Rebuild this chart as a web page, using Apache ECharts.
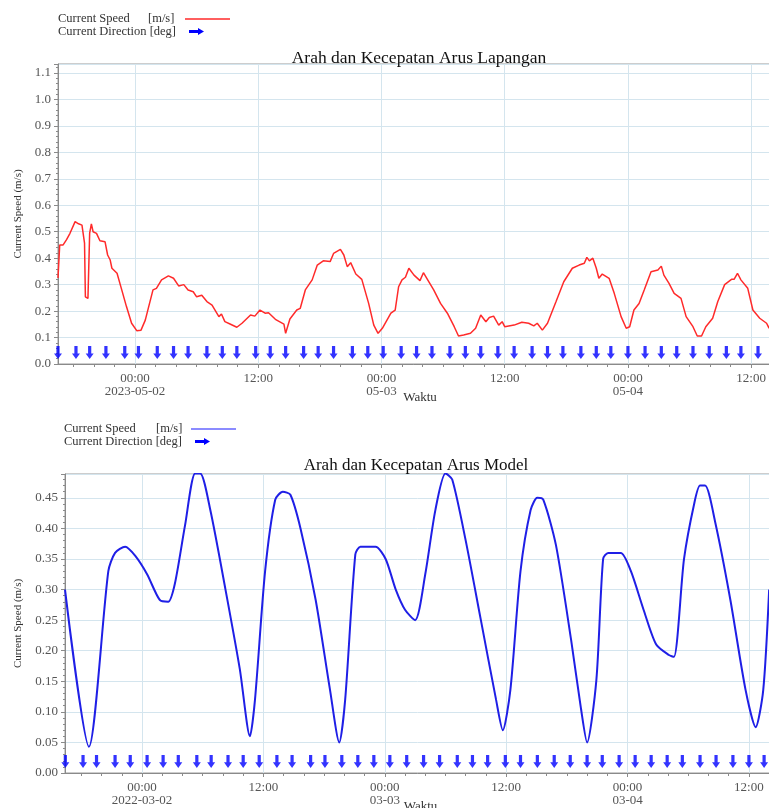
<!DOCTYPE html>
<html>
<head>
<meta charset="utf-8">
<script src="https://cdn.jsdelivr.net/npm/echarts@6/dist/echarts.min.js"></script>
<style>
  html, body { margin: 0; padding: 0; background: #fff; }
  #chart { width: 769px; height: 808px; }
</style>
</head>
<body>
<div id="chart"></div>
<script>
// ---- Field measurements (Lapangan) ----
const fieldTimes = [
  '2023-05-01 16:30','2023-05-01 16:40','2023-05-01 17:00','2023-05-01 17:20','2023-05-01 17:40',
  '2023-05-01 18:10','2023-05-01 18:30','2023-05-01 18:50','2023-05-01 19:05','2023-05-01 19:10',
  '2023-05-01 19:25','2023-05-01 19:35','2023-05-01 19:45','2023-05-01 19:55','2023-05-01 20:15',
  '2023-05-01 20:35','2023-05-01 21:05','2023-05-01 21:20','2023-05-01 21:35','2023-05-01 21:45',
  '2023-05-01 22:15','2023-05-01 22:40','2023-05-01 23:10','2023-05-01 23:40',
  '2023-05-02 00:10','2023-05-02 00:35','2023-05-02 01:00','2023-05-02 01:20','2023-05-02 01:45',
  '2023-05-02 02:05','2023-05-02 02:35','2023-05-02 03:15','2023-05-02 03:45','2023-05-02 04:15',
  '2023-05-02 04:45','2023-05-02 05:10','2023-05-02 05:40','2023-05-02 06:00','2023-05-02 06:30',
  '2023-05-02 07:00','2023-05-02 07:30','2023-05-02 08:10','2023-05-02 08:25','2023-05-02 08:45',
  '2023-05-02 09:15','2023-05-02 09:55','2023-05-02 10:25','2023-05-02 11:15','2023-05-02 11:40',
  '2023-05-02 12:10','2023-05-02 12:40','2023-05-02 13:00','2023-05-02 13:40','2023-05-02 14:30',
  '2023-05-02 14:40','2023-05-02 15:05','2023-05-02 15:45','2023-05-02 16:05','2023-05-02 16:35',
  '2023-05-02 17:15','2023-05-02 17:45','2023-05-02 18:20','2023-05-02 19:00','2023-05-02 19:20',
  '2023-05-02 20:00','2023-05-02 20:20','2023-05-02 20:40','2023-05-02 21:00','2023-05-02 21:30',
  '2023-05-02 22:05','2023-05-02 22:45','2023-05-02 23:15','2023-05-02 23:40',
  '2023-05-03 00:05','2023-05-03 00:55','2023-05-03 01:20','2023-05-03 01:40','2023-05-03 02:00',
  '2023-05-03 02:20','2023-05-03 02:40','2023-05-03 03:10','2023-05-03 03:45','2023-05-03 04:05',
  '2023-05-03 04:30','2023-05-03 05:05','2023-05-03 05:45','2023-05-03 06:25','2023-05-03 07:05',
  '2023-05-03 07:30','2023-05-03 08:00','2023-05-03 08:40','2023-05-03 09:10','2023-05-03 09:40',
  '2023-05-03 10:10','2023-05-03 10:30','2023-05-03 10:55','2023-05-03 11:25','2023-05-03 11:45',
  '2023-05-03 12:00','2023-05-03 12:55','2023-05-03 13:40','2023-05-03 14:20','2023-05-03 14:50',
  '2023-05-03 15:10','2023-05-03 15:40','2023-05-03 16:10','2023-05-03 17:00','2023-05-03 17:45',
  '2023-05-03 18:35','2023-05-03 19:15','2023-05-03 19:45','2023-05-03 20:00','2023-05-03 20:15',
  '2023-05-03 20:35','2023-05-03 20:55','2023-05-03 21:10','2023-05-03 21:30','2023-05-03 22:10',
  '2023-05-03 22:40','2023-05-03 23:20','2023-05-03 23:50',
  '2023-05-04 00:10','2023-05-04 00:35','2023-05-04 01:05','2023-05-04 01:35','2023-05-04 02:15',
  '2023-05-04 02:55','2023-05-04 03:15','2023-05-04 03:30','2023-05-04 04:00','2023-05-04 04:30',
  '2023-05-04 05:10','2023-05-04 05:40','2023-05-04 06:20','2023-05-04 06:45','2023-05-04 07:10',
  '2023-05-04 07:35','2023-05-04 08:15','2023-05-04 08:45','2023-05-04 09:25','2023-05-04 10:05',
  '2023-05-04 10:20','2023-05-04 10:40','2023-05-04 11:00','2023-05-04 11:40','2023-05-04 12:10',
  '2023-05-04 12:50','2023-05-04 13:30','2023-05-04 13:45'
];
const fieldSpeed = [
  0.325,0.45,0.45,0.47,0.494,
  0.538,0.53,0.525,0.457,0.254,
  0.248,0.495,0.53,0.50,0.494,
  0.466,0.462,0.412,0.393,0.362,
  0.343,0.286,0.217,0.154,
  0.126,0.128,0.166,0.217,0.28,
  0.286,0.318,0.333,0.324,0.295,
  0.30,0.28,0.273,0.254,0.26,
  0.236,0.223,0.179,0.189,0.16,
  0.151,0.139,0.154,0.185,0.181,
  0.204,0.192,0.194,0.169,0.151,
  0.116,0.17,0.204,0.21,0.28,
  0.318,0.374,0.39,0.387,0.418,
  0.433,0.412,0.368,0.383,0.34,
  0.32,0.229,0.147,0.116,
  0.135,0.192,0.204,0.292,0.318,
  0.328,0.362,0.336,0.315,0.345,
  0.318,0.28,0.229,0.192,0.141,
  0.106,0.11,0.116,0.135,0.185,
  0.16,0.176,0.181,0.147,0.16,
  0.141,0.147,0.158,0.154,0.144,
  0.154,0.128,0.154,0.236,0.311,
  0.362,0.374,0.381,0.403,0.39,
  0.40,0.362,0.324,0.34,0.324,
  0.267,0.179,0.135,
  0.141,0.204,0.229,0.28,0.349,
  0.355,0.37,0.336,0.305,0.267,
  0.248,0.179,0.141,0.106,0.106,
  0.141,0.173,0.236,0.30,0.32,
  0.32,0.343,0.318,0.286,0.204,
  0.173,0.154,0.135
];
const fieldArrowTimes = [
  '2023-05-01 16:30','2023-05-01 18:15','2023-05-01 19:35','2023-05-01 21:10','2023-05-01 23:00',
  '2023-05-02 00:20','2023-05-02 02:10','2023-05-02 03:45','2023-05-02 05:10','2023-05-02 07:00',
  '2023-05-02 08:30','2023-05-02 09:55','2023-05-02 11:45','2023-05-02 13:10','2023-05-02 14:40',
  '2023-05-02 16:25','2023-05-02 17:50','2023-05-02 19:20','2023-05-02 21:10','2023-05-02 22:40',
  '2023-05-03 00:10','2023-05-03 01:55','2023-05-03 03:25','2023-05-03 04:55','2023-05-03 06:40',
  '2023-05-03 08:10','2023-05-03 09:40','2023-05-03 11:20','2023-05-03 12:55','2023-05-03 14:40',
  '2023-05-03 16:10','2023-05-03 17:40','2023-05-03 19:25','2023-05-03 20:55','2023-05-03 22:20',
  '2023-05-04 00:00','2023-05-04 01:40','2023-05-04 03:15','2023-05-04 04:45','2023-05-04 06:20',
  '2023-05-04 07:55','2023-05-04 09:35','2023-05-04 11:00','2023-05-04 12:40'
];
const fieldDirection = fieldArrowTimes.map(() => 180);
const fieldTicks = ['2023-05-02 00:00','2023-05-02 12:00','2023-05-03 00:00','2023-05-03 12:00','2023-05-04 00:00','2023-05-04 12:00'];
const fieldTickLabels = ['00:00\n2023-05-02','12:00','00:00\n05-03','12:00','00:00\n05-04','12:00'];

// ---- Model output ----
const modelTimes = [
  '2022-03-01 16:23','2022-03-01 18:45','2022-03-01 20:40','2022-03-01 21:20','2022-03-01 22:20','2022-03-01 23:20',
  '2022-03-02 00:30','2022-03-02 01:45','2022-03-02 02:35','2022-03-02 03:15','2022-03-02 04:15','2022-03-02 05:15',
  '2022-03-02 05:45','2022-03-02 06:45','2022-03-02 08:15','2022-03-02 09:40','2022-03-02 10:40','2022-03-02 11:10',
  '2022-03-02 12:10','2022-03-02 13:10','2022-03-02 13:55','2022-03-02 14:40','2022-03-02 15:40','2022-03-02 17:10',
  '2022-03-02 18:35','2022-03-02 19:30','2022-03-02 20:05','2022-03-02 21:05','2022-03-02 21:35','2022-03-02 23:05',
  '2022-03-03 00:05','2022-03-03 01:05','2022-03-03 02:00','2022-03-03 03:00','2022-03-03 04:00','2022-03-03 05:00',
  '2022-03-03 06:00','2022-03-03 06:40','2022-03-03 08:00','2022-03-03 09:30','2022-03-03 11:00','2022-03-03 11:40',
  '2022-03-03 12:25','2022-03-03 13:25','2022-03-03 14:25','2022-03-03 15:05','2022-03-03 15:40','2022-03-03 16:55',
  '2022-03-03 18:25','2022-03-03 19:25','2022-03-03 20:00','2022-03-03 20:55','2022-03-03 21:35','2022-03-03 22:05',
  '2022-03-03 23:20','2022-03-04 00:20','2022-03-04 01:35','2022-03-04 02:50','2022-03-04 04:05','2022-03-04 04:35',
  '2022-03-04 05:35','2022-03-04 06:35','2022-03-04 07:10','2022-03-04 07:40','2022-03-04 08:40','2022-03-04 10:10',
  '2022-03-04 11:40','2022-03-04 12:40','2022-03-04 13:25','2022-03-04 14:00'
];
const modelSpeed = [
  0.30,0.043,0.33,0.36,0.37,0.355,
  0.325,0.283,0.28,0.31,0.405,0.49,
  0.49,0.43,0.30,0.17,0.06,0.12,
  0.33,0.447,0.46,0.455,0.40,0.283,
  0.136,0.05,0.12,0.357,0.37,0.37,
  0.35,0.30,0.267,0.25,0.325,0.43,
  0.49,0.48,0.38,0.25,0.12,0.07,
  0.136,0.33,0.43,0.45,0.447,0.373,
  0.218,0.103,0.05,0.152,0.35,0.36,
  0.36,0.33,0.267,0.21,0.193,0.19,
  0.35,0.44,0.47,0.47,0.41,0.283,
  0.136,0.075,0.136,0.30
];
const modelArrowTimes = [
  '2022-03-01 16:25','2022-03-01 18:10','2022-03-01 19:30','2022-03-01 21:20','2022-03-01 22:50',
  '2022-03-02 00:30','2022-03-02 02:05','2022-03-02 03:35','2022-03-02 05:25','2022-03-02 06:50',
  '2022-03-02 08:30','2022-03-02 10:00','2022-03-02 11:35','2022-03-02 13:20','2022-03-02 14:50',
  '2022-03-02 16:40','2022-03-02 18:05','2022-03-02 19:45','2022-03-02 21:20','2022-03-02 22:55',
  '2022-03-03 00:30','2022-03-03 02:10','2022-03-03 03:50','2022-03-03 05:25','2022-03-03 07:10',
  '2022-03-03 08:40','2022-03-03 10:10','2022-03-03 11:55','2022-03-03 13:25','2022-03-03 15:05',
  '2022-03-03 16:45','2022-03-03 18:20','2022-03-03 20:00','2022-03-03 21:30','2022-03-03 23:10',
  '2022-03-04 00:45','2022-03-04 02:20','2022-03-04 03:55','2022-03-04 05:25','2022-03-04 07:10',
  '2022-03-04 08:45','2022-03-04 10:25','2022-03-04 12:00','2022-03-04 13:30'
];
const modelDirection = modelArrowTimes.map(() => 180);
const modelTicks = ['2022-03-02 00:00','2022-03-02 12:00','2022-03-03 00:00','2022-03-03 12:00','2022-03-04 00:00','2022-03-04 12:00'];
const modelTickLabels = ['00:00\n2022-03-02','12:00','00:00\n03-03','12:00','00:00\n03-04','12:00'];

// ---- helpers ----
function ts(s) {
  const [d, t] = s.split(' ');
  const [y, m, day] = d.split('-').map(Number);
  const [hh, mm] = t.split(':').map(Number);
  return new Date(y, m - 1, day, hh, mm).getTime();
}
const HOUR = 3600 * 1000;
const SERIF = 'Liberation Serif';
const AXIS_GREY = '#8a8a8a';
const GRID_BLUE = '#d4e5ee';
// upward arrow; rotated by the direction value
const ARROW = 'path://M5,0 L10,6 L7,6 L7,14 L3,14 L3,6 L0,6 Z';

// time runs on a numeric (epoch ms) axis so the 12-hour marks can be placed exactly
function timeAxis(gridIndex, min, max, ticks, labels, nameGap, namePad) {
  const tickVals = ticks.map(ts);
  return {
    type: 'value', gridIndex, position: 'bottom', min: ts(min), max: ts(max),
    name: 'Waktu', nameLocation: 'middle', nameGap, nameMoveOverlap: false,
    nameTextStyle: { fontFamily: SERIF, fontSize: 13, color: '#333', padding: [0, 0, 0, namePad] },
    axisLine: { show: true, onZero: false, lineStyle: { color: AXIS_GREY } },
    axisTick: { show: true, customValues: tickVals, length: 4, lineStyle: { color: AXIS_GREY } },
    axisLabel: {
      customValues: tickVals,
      formatter: v => { const i = tickVals.indexOf(v); return i >= 0 ? labels[i] : ''; },
      fontFamily: SERIF, fontSize: 13, color: '#555', lineHeight: 13, margin: 8
    },
    splitLine: { show: true, lineStyle: { color: GRID_BLUE, width: 1 } }
  };
}
// two-hourly minor ticks along the bottom time axis (no labels, no grid lines)
function minorTimeAxis(gridIndex, min, max, firstMark) {
  const marks = [];
  for (let t = ts(firstMark); t <= ts(max); t += 2 * HOUR) marks.push(t);
  return {
    type: 'value', gridIndex, position: 'bottom', offset: 0, min: ts(min), max: ts(max),
    axisLine: { show: false, onZero: false },
    axisTick: { show: true, customValues: marks, length: 3, lineStyle: { color: AXIS_GREY } },
    axisLabel: { show: false },
    splitLine: { show: false }
  };
}
function speedAxis(gridIndex, max, interval, digits, nameGap) {
  return {
    type: 'value', gridIndex, min: 0, max, interval,
    name: 'Current Speed (m/s)', nameLocation: 'middle', nameGap, nameMoveOverlap: false,
    nameTextStyle: { fontFamily: SERIF, fontSize: 11, color: '#333' },
    axisLine: { show: true, lineStyle: { color: AXIS_GREY } },
    axisTick: { show: true, length: 4, lineStyle: { color: AXIS_GREY } },
    minorTick: { show: true, splitNumber: 5, length: 2, lineStyle: { color: AXIS_GREY } },
    axisLabel: {
      showMaxLabel: false, formatter: v => v.toFixed(digits),
      fontFamily: SERIF, fontSize: 13, color: '#555', margin: 7
    },
    splitLine: { show: true, lineStyle: { color: GRID_BLUE, width: 1 } }
  };
}
function legendBlock(x, y, lineColor, textGap) {
  const txt = (t, tx, ty) => ({ type: 'text', x: tx, y: ty,
    style: { text: t, fontFamily: SERIF, fontSize: 12.5, fill: '#333', verticalAlign: 'middle' } });
  return [
    txt('Current Speed', x, y),
    txt('[m/s]', x + textGap, y),
    txt('Current Direction [deg]', x, y + 12.4),
    { type: 'line', shape: { x1: x + 127, y1: y, x2: x + 172, y2: y },
      style: { stroke: lineColor, lineWidth: 1.5 } },
    { type: 'polygon', shape: { points: [[x + 131, y + 10.9], [x + 140, y + 10.9], [x + 140, y + 8.9], [x + 146, y + 12.4],
      [x + 140, y + 15.9], [x + 140, y + 13.9], [x + 131, y + 13.9]] }, style: { fill: '#0000ff' } }
  ];
}

const chart = echarts.init(document.getElementById('chart'), null, { renderer: 'canvas' });
chart.setOption({
  backgroundColor: '#fff',
  animation: false,
  title: [
    { text: 'Arah dan Kecepatan Arus Lapangan', left: 419, top: 49, textAlign: 'center', padding: 0,
      textStyle: { fontFamily: SERIF, fontSize: 17.5, fontWeight: 'normal', color: '#111' } },
    { text: 'Arah dan Kecepatan Arus Model', left: 416, top: 457, textAlign: 'center', padding: 0,
      textStyle: { fontFamily: SERIF, fontSize: 17, fontWeight: 'normal', color: '#111' } }
  ],
  graphic: [].concat(legendBlock(58, 19, '#ff2a2a', 90), legendBlock(64, 429, '#6464ff', 92)),
  grid: [
    { left: 58, top: 64, right: -1, height: 300, outerBoundsMode: 'none',
      show: true, borderColor: '#9a9a9a', borderWidth: 1 },
    { left: 65, top: 474, right: -1, height: 299, outerBoundsMode: 'none',
      show: true, borderColor: '#9a9a9a', borderWidth: 1 }
  ],
  xAxis: [
    timeAxis(0, '2023-05-01 16:30', '2023-05-04 13:50', fieldTicks, fieldTickLabels, 27, 12),
    timeAxis(1, '2022-03-01 16:23', '2022-03-04 14:05', modelTicks, modelTickLabels, 27, 6),
    minorTimeAxis(0, '2023-05-01 16:30', '2023-05-04 13:50', '2023-05-01 18:00'),
    minorTimeAxis(1, '2022-03-01 16:23', '2022-03-04 14:05', '2022-03-01 18:00')
  ],
  yAxis: [
    speedAxis(0, 1.134, 0.1, 1, 34),
    speedAxis(1, 0.489, 0.05, 2, 41)
  ],
  series: [
    { name: 'Current Speed', type: 'line', xAxisIndex: 0, yAxisIndex: 0, showSymbol: false,
      lineStyle: { color: '#ff2a2a', width: 1.5 },
      data: fieldTimes.map((t, i) => [ts(t), fieldSpeed[i]]) },
    { name: 'Current Direction', type: 'scatter', xAxisIndex: 0, yAxisIndex: 0,
      symbol: ARROW, symbolSize: [8, 13], itemStyle: { color: '#0000ff' },
      data: fieldArrowTimes.map((t, i) => ({ value: [ts(t), 0.043], symbolRotate: -fieldDirection[i] })) },
    { name: 'Current Speed', type: 'line', xAxisIndex: 1, yAxisIndex: 1, showSymbol: false,
      smooth: 0.25, lineStyle: { color: '#1f1fe6', width: 2 },
      data: modelTimes.map((t, i) => [ts(t), modelSpeed[i]]) },
    { name: 'Current Direction', type: 'scatter', xAxisIndex: 1, yAxisIndex: 1,
      symbol: ARROW, symbolSize: [8, 13], itemStyle: { color: '#0000ff' },
      data: modelArrowTimes.map((t, i) => ({ value: [ts(t), 0.019], symbolRotate: -modelDirection[i] })) }
  ]
});
</script>
</body>
</html>
